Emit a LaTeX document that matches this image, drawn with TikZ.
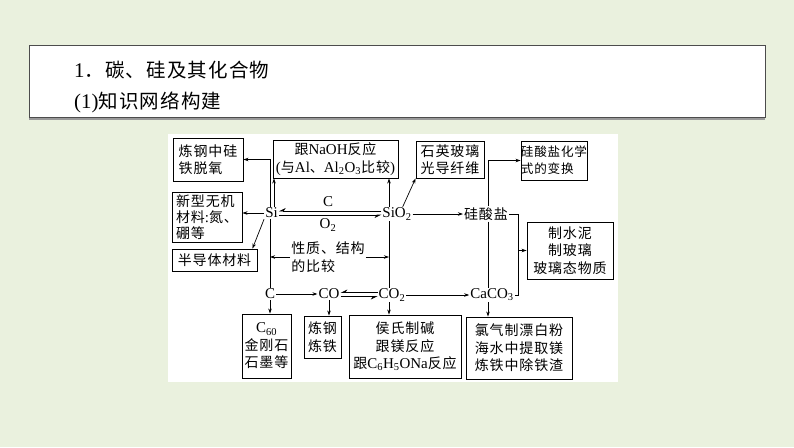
\documentclass[tikz,border=0pt]{standalone}
\usepackage{fontspec}
\setmainfont{Liberation Serif}[Scale=1.07]
\newfontfamily\cjk{Noto Sans CJK SC}[LetterSpace=6]
\usetikzlibrary{arrows.meta}
\newXeTeXintercharclass\cjkclass
\newcount\cjkcnt
\cjkcnt="2E80
\loop\XeTeXcharclass\cjkcnt=\cjkclass\relax\advance\cjkcnt by 1\relax\ifnum\cjkcnt<"A000\repeat
\cjkcnt="FF00
\loop\XeTeXcharclass\cjkcnt=\cjkclass\relax\advance\cjkcnt by 1\relax\ifnum\cjkcnt<"FFF0\repeat
\XeTeXinterchartoks 0 \cjkclass={\cjk}
\XeTeXinterchartoks 4095 \cjkclass={\cjk}
\XeTeXinterchartoks \cjkclass 0={\rmfamily}
\XeTeXinterchartokenstate=1
\definecolor{pagebg}{RGB}{234,241,222}
\begin{document}
\begin{tikzpicture}[x=1pt,y=-1pt,
  every node/.style={font=\fontsize{14}{17.5}\selectfont, inner sep=1pt},
  box/.style={draw=black, line width=0.9pt, fill=white, inner sep=0pt, align=center},
  arr/.style={-{Stealth[length=5pt,width=3.5pt]}, line width=0.7pt},
  ln/.style={line width=0.7pt},
  harp/.style={-{Stealth[harpoon,swap,length=6pt,width=6pt]}, line width=0.7pt}]
\useasboundingbox (0,0) rectangle (794,447);
\fill[pagebg] (0,0) rectangle (794,447);
% header
\fill[black!40] (29,47) rectangle (765,119.5);
\draw[black!70, line width=0.8pt, fill=white] (29,45) rectangle (765,117);
\node[anchor=west, font=\fontsize{19.5}{24}\selectfont] (t1) at (73,70) {1．碳、硅及其化合物};
\node[anchor=west, font=\fontsize{19.5}{24}\selectfont] (t2) at (73,102) {(1)知识网络构建};
% diagram area
\fill[white] (168,134) rectangle (618,382);
% boxes
\node[box, align=left, minimum width=70pt, minimum height=43pt] (b1) at (208,159.5) {炼钢中硅\\铁脱氧};
\node[box, align=left, minimum width=70pt, minimum height=50pt, font=\fontsize{14}{16}\selectfont] (b2) at (207,217.5) {新型无机\\材料:氮、\\硼等};
\node[box, minimum width=85pt, minimum height=22pt] (b3) at (214.5,260) {半导体材料};
\node[box, minimum width=125pt, minimum height=38pt] (b4) at (335.5,159) {跟NaOH反应\\(与Al、Al\textsubscript{2}O\textsubscript{3}比较)};
\node[box, minimum width=68pt, minimum height=37pt] (b5) at (450,159.5) {石英玻璃\\光导纤维};
\node[box, align=left, minimum width=66pt, minimum height=39pt, font=\fontsize{12.6}{17}\selectfont] (b6) at (554,160.5) {硅酸盐化学\\式的变换};
\node[box, minimum width=86pt, minimum height=57pt] (b7) at (570,250.5) {制水泥\\制玻璃\\玻璃态物质};
\node[box, minimum width=49pt, minimum height=64pt] (b8) at (266.5,346) {C\textsubscript{60}\\金刚石\\石墨等};
\node[box, minimum width=37pt, minimum height=42pt] (b9) at (322.5,337) {炼钢\\炼铁};
\node[box, minimum width=112pt, minimum height=63pt] (b10) at (405,346.5) {侯氏制碱\\跟镁反应\\跟C\textsubscript{6}H\textsubscript{5}ONa反应};
\node[box, minimum width=106pt, minimum height=62pt] (b11) at (519,348) {氯气制漂白粉\\海水中提取镁\\炼铁中除铁渣};
% substance nodes
\node (Si) at (271.5,213) {Si};
\node (SiO2) at (397,214) {SiO\textsubscript{2}};
\node (gs) at (486,214) {硅酸盐};
\node (C) at (270,294) {C};
\node (CO) at (329,294) {CO};
\node (CO2) at (392,295) {CO\textsubscript{2}};
\node (CaCO3) at (492,295) {CaCO\textsubscript{3}};
\node[align=left] (cmp) at (328,257) {性质、结构\\的比较};
\node (lC) at (328,202) {C};
\node (lO2) at (328,225) {O\textsubscript{2}};
% helper coordinates
\coordinate (v1) at (270,0);
\coordinate (v1b) at (274,0);
\coordinate (v2) at (389,0);
\coordinate (v3) at (488,0);
\coordinate (v4) at (518,0);
\coordinate (h1) at (0,211);
\coordinate (h2) at (0,215);
\coordinate (h3) at (0,292.5);
\coordinate (h4) at (0,296.5);
% connectors
\draw[arr] (v1 |- Si.north) |- (b1.east);
\draw[arr] (v1b |- Si.north) -- (v1b |- b4.south);
\draw[arr] (v2 |- SiO2.north) -- (v2 |- b4.south);
\draw[arr] (Si.west) -- (b2.east |- Si.west);
\draw[arr] (Si.south west) -- ([xshift=-5pt]b3.north east);
\draw[ln] (v1 |- Si.south) -- (v1 |- C.north);
\draw[ln] (v2 |- SiO2.south) -- (v2 |- CO2.north);
\draw[arr] (cmp.west) -- (v1 |- cmp.west);
\draw[arr] (cmp.east) -- (v2 |- cmp.east);
\draw[harp] (SiO2.west |- h1) -- (Si.east |- h1);
\draw[harp] (Si.east |- h2) -- (SiO2.west |- h2);
\draw[arr] ([xshift=-10pt]SiO2.north east) -- (b5.south west);
\draw[arr] (SiO2.east) -- (gs.west);
\draw[arr] (v3 |- gs.north) |- (b6.west);
\draw[ln] (v3 |- gs.south) -- (v3 |- CaCO3.north);
\draw[ln] (gs.east) -| (v4 |- CaCO3.east) -- (CaCO3.east);
\draw[arr] (v4 |- b7.west) -- (b7.west);
\draw[arr] (C.south) -- (C.south |- b8.north);
\draw[arr] (C.east) -- (CO.west);
\draw[arr] (CO.south) -- (CO.south |- b9.north);
\draw[harp] (CO2.west |- h3) -- (CO.east |- h3);
\draw[harp] (CO.east |- h4) -- (CO2.west |- h4);
\draw[arr] (v2 |- CO2.south) -- (v2 |- b10.north);
\draw[arr] (CO2.east) -- (CaCO3.west);
\draw[arr] (v3 |- CaCO3.south) -- (v3 |- b11.north);
\end{tikzpicture}
\end{document}
